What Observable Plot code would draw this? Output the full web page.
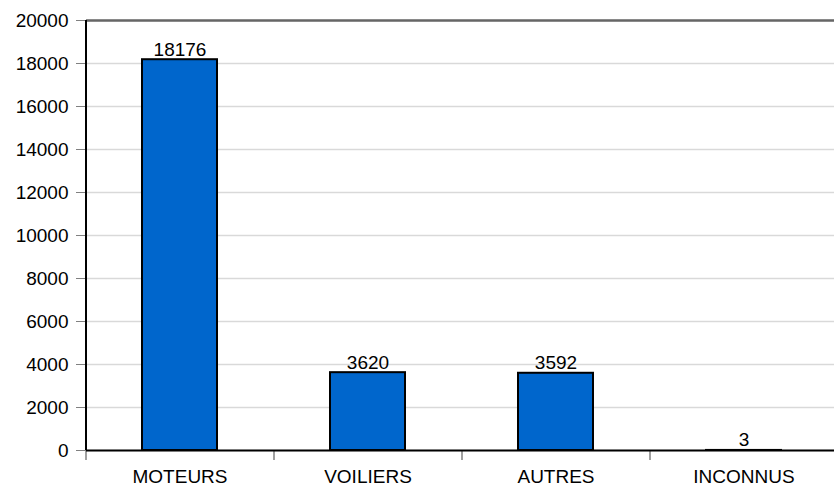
<!DOCTYPE html>
<html>
<head>
<meta charset="utf-8">
<script src="https://cdn.jsdelivr.net/npm/d3@7"></script>
<script src="https://cdn.jsdelivr.net/npm/@observablehq/plot@0.6"></script>
<style>
html, body { margin: 0; padding: 0; background: #fff; overflow: hidden; }
svg { overflow: visible; }
</style>
</head>
<body>
<div id="chart"></div>
<script>
const categories = ["MOTEURS", "VOILIERS", "AUTRES", "INCONNUS"];
const values = [18176, 3620, 3592, 3];
const yTicks = [0, 2000, 4000, 6000, 8000, 10000, 12000, 14000, 16000, 18000, 20000];

const data = categories.map((c, i) => ({category: c, value: values[i]}));

const width = 834, height = 487;
const marginLeft = 86, marginRight = -4;
const halfStep = (width - marginLeft - marginRight) / categories.length / 2;
const fs = 19;

const chart = Plot.plot({
  width, height,
  marginLeft, marginRight,
  marginTop: 20, marginBottom: 37,
  style: {fontFamily: "'Liberation Sans', Arial, sans-serif", fontSize: fs + "px", color: "black", background: "white"},
  x: {domain: categories, paddingInner: 0.6, paddingOuter: 0.3, label: null},
  y: {domain: [0, 20000], label: null},
  marks: [
    Plot.gridY(yTicks, {stroke: "#d9d9d9", strokeOpacity: 1, strokeWidth: 1.5}),
    Plot.ruleY([20000], {stroke: "#666666", strokeWidth: 2.5}),
    Plot.axisY({ticks: yTicks, tickSize: 10, tickPadding: 8, stroke: "#808080", fill: "black", fontSize: fs, tickFormat: d => String(d), label: null}),
    Plot.axisX({tickSize: 0, tickPadding: 19, fontSize: fs, label: null}),
    Plot.ruleX(categories, {x: d => d, y1: 0, y2: 0, insetTop: 10, dx: -halfStep, stroke: "#808080", strokeWidth: 1.5}),
    Plot.barY(data, {x: "category", y: "value", fill: "#0066cc", stroke: "black", strokeWidth: 2}),
    Plot.ruleY([0], {stroke: "black", strokeWidth: 2}),
    Plot.ruleX([categories[0]], {x: d => d, y1: 0, y2: 20000, dx: -halfStep, stroke: "black", strokeWidth: 2}),
    Plot.text(data, {x: "category", y: "value", text: d => String(d.value), lineAnchor: "bottom", dy: -4, fontSize: fs, fill: "black"})
  ]
});
document.getElementById("chart").appendChild(chart);
</script>
</body>
</html>
